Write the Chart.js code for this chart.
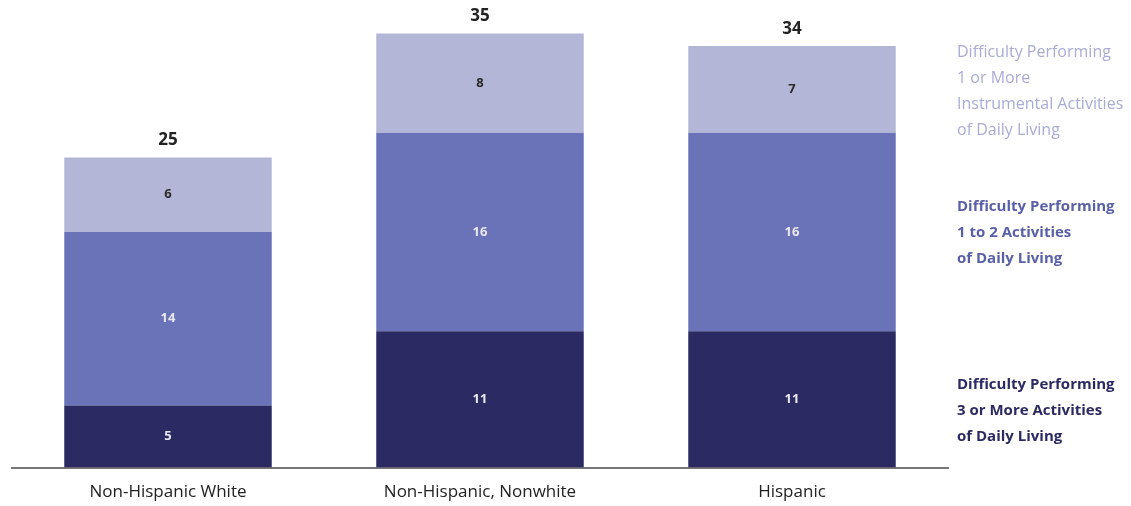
<!DOCTYPE html>
<html>
<head>
<meta charset="utf-8">
<script src="https://cdn.jsdelivr.net/npm/chart.js@4.4.0/dist/chart.umd.min.js"></script>
<style>
  html, body { margin: 0; padding: 0; background: #fff; }
  #wrap { width: 1131px; height: 506px; position: relative; }
</style>
</head>
<body>
<div id="wrap"><canvas id="myChart"></canvas></div>
<script>
'use strict';

// categories and series
var categories = ['Non-Hispanic White', 'Non-Hispanic, Nonwhite', 'Hispanic'];
var adl3 = [5, 11, 11];      // 3 or more ADLs
var adl12 = [14, 16, 16];    // 1 to 2 ADLs
var iadl = [6, 8, 7];        // 1 or more IADLs
var seriesNames = [
  ['Difficulty Performing', '3 or More Activities', 'of Daily Living'],
  ['Difficulty Performing', '1 to 2 Activities', 'of Daily Living'],
  ['Difficulty Performing', '1 or More', 'Instrumental Activities', 'of Daily Living']
];

var colors = ['#2b2a62', '#6b73b8', '#b4b6d8'];
var legendColors = ['#2b2a62', '#5a60a8', '#a9abd6'];
var labelColors = ['#e8e8f4', '#e8e8f4', '#2a2a2a'];
var fontFamily = '"Open Sans", "Noto Sans", sans-serif';

// draws segment values, totals and the right side legend
var labelPlugin = {
  id: 'labels',
  afterDatasetsDraw: function(chart) {
    var ctx = chart.ctx;
    ctx.save();
    ctx.textAlign = 'center';
    ctx.textBaseline = 'middle';
    var n = chart.data.labels.length;
    chart.data.datasets.forEach(function(ds, di) {
      var meta = chart.getDatasetMeta(di);
      meta.data.forEach(function(bar, i) {
        var mid = (bar.y + bar.base) / 2;
        ctx.fillStyle = labelColors[di];
        ctx.font = 'bold 13px ' + fontFamily;
        ctx.fillText(ds.data[i], bar.x, mid);
      });
    });
    // totals
    var lastMeta = chart.getDatasetMeta(chart.data.datasets.length - 1);
    for (var i = 0; i < n; i++) {
      var total = 0;
      chart.data.datasets.forEach(function(ds) { total += ds.data[i]; });
      var bar = lastMeta.data[i];
      ctx.fillStyle = '#222';
      ctx.font = 'bold 17px ' + fontFamily;
      ctx.fillText(total, bar.x, bar.y - 17);
    }
    // legend beside the last bar
    ctx.textAlign = 'left';
    var offsets = [1, 1, 2];
    chart.data.datasets.forEach(function(ds, di) {
      var meta = chart.getDatasetMeta(di);
      var bar = meta.data[n - 1];
      var mid = (bar.y + bar.base) / 2;
      var lines = seriesNames[di];
      var lh = 26;
      var y0 = mid - (lines.length - 1) * lh / 2 + offsets[di];
      if (di === 0) y0 += 10;
      ctx.fillStyle = legendColors[di];
      ctx.font = (di === 2 ? '16px ' : 'bold 15px ') + fontFamily;
      lines.forEach(function(l, k) {
        ctx.fillText(l, 957, y0 + k * lh);
      });
    });
    ctx.restore();
  }
};

var datasets = [adl3, adl12, iadl].map(function(d, i) {
  return {
    data: d,
    backgroundColor: colors[i],
    borderWidth: 0,
    barPercentage: 1,
    categoryPercentage: 0.665
  };
});

new Chart(document.getElementById('myChart'), {
  type: 'bar',
  data: { labels: categories, datasets: datasets },
  options: {
    responsive: true,
    maintainAspectRatio: false,
    animation: false,
    layout: { padding: { left: 12, right: 183, top: 0, bottom: -10 } },
    plugins: { legend: { display: false }, tooltip: { enabled: false } },
    scales: {
      x: {
        stacked: true,
        grid: { display: false, drawTicks: false },
        border: { display: true, color: '#777', width: 2 },
        ticks: { color: '#222', font: { family: fontFamily, size: 17 }, padding: 14 }
      },
      y: {
        stacked: true,
        display: false,
        min: 0,
        max: 37.7
      }
    }
  },
  plugins: [labelPlugin]
});
</script>
</body>
</html>
